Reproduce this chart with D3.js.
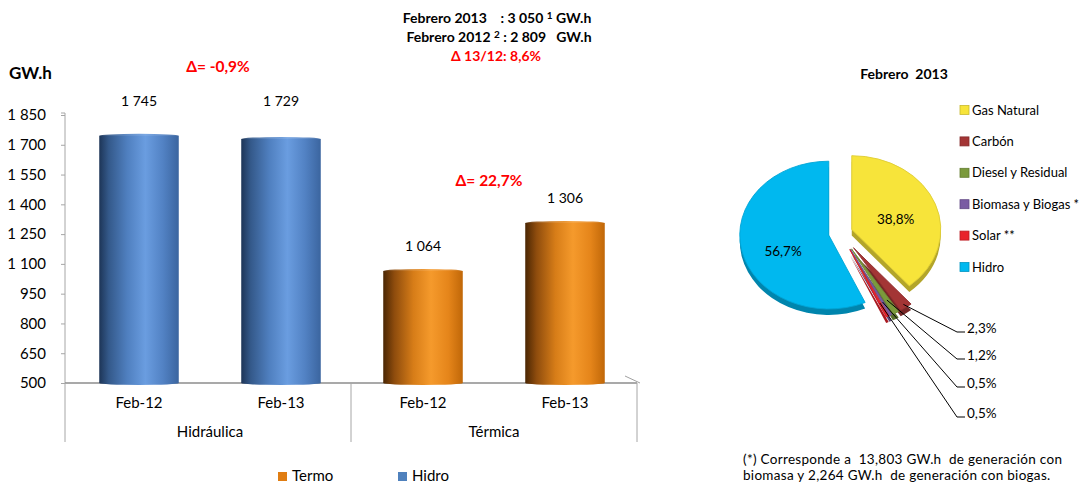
<!DOCTYPE html>
<html>
<head>
<meta charset="utf-8">
<script src="https://cdnjs.cloudflare.com/ajax/libs/d3/7.8.5/d3.min.js"></script>
<style>
  body { margin: 0; background: #fff; }
  text { font-family: Lato, "Open Sans", sans-serif; fill: #000; }
</style>
</head>
<body>
<div id="chart"></div>
<script>
// bar chart data
var categories = ["Feb-12", "Feb-13", "Feb-12", "Feb-13"];
var groups = ["Hidráulica", "Térmica"];
var barValues = [1745, 1729, 1064, 1306];
var barSeries = ["Hidro", "Hidro", "Termo", "Termo"];
var yTicks = [500, 650, 800, 950, 1100, 1250, 1400, 1550, 1700, 1850];
var deltaLabels = ["Δ= -0,9%", "Δ= 22,7%"];
var legendNames = ["Termo", "Hidro"];

// pie data
var pieNames = ["Gas Natural", "Carbón", "Diesel y Residual", "Biomasa y Biogas *", "Solar **", "Hidro"];
var pieValues = [38.8, 2.3, 1.2, 0.5, 0.5, 56.7];
var pieColors = ["#f7e43a", "#a33535", "#7b9a3c", "#7a5ba3", "#e8232b", "#00b8ef"];

var width = 1085, height = 484;
var svg = d3.select("#chart").append("svg")
  .attr("width", width).attr("height", height);

var defs = svg.append("defs");

function cylGrad(id, stops) {
  var g = defs.append("linearGradient").attr("id", id)
    .attr("x1", "0%").attr("x2", "100%").attr("y1", "0%").attr("y2", "0%");
  stops.forEach(function(s) {
    g.append("stop").attr("offset", s[0]).attr("stop-color", s[1]);
  });
}
cylGrad("gHidro", [["0%", "#1d3557"], ["12%", "#34598a"], ["35%", "#4f7fbf"], ["58%", "#6a9de0"], ["80%", "#5282c4"], ["100%", "#3b659f"]]);
cylGrad("gTermo", [["0%", "#4a2603"], ["14%", "#8e4c0d"], ["38%", "#d77d18"], ["60%", "#f59a2c"], ["82%", "#e5851a"], ["100%", "#c06708"]]);

var fmt = d3.formatLocale({decimal: ",", thousands: " ", grouping: [3], currency: ["", ""]}).format(",d");

// scales
var x = d3.scaleBand().domain(d3.range(categories.length))
  .range([68, 636]).paddingInner(0.44).paddingOuter(0.22);
var y = d3.scaleLinear().domain([500, 1850]).range([383, 115]);

// y axis
var yAxis = svg.append("g").attr("transform", "translate(65,0)")
  .call(d3.axisLeft(y).tickValues(yTicks).tickSize(4).tickPadding(15).tickFormat(fmt));
yAxis.select(".domain").attr("stroke", "#a6a6a6").attr("d", "M-4,113H0V383");
yAxis.selectAll(".tick line").attr("stroke", "#a6a6a6");
yAxis.selectAll(".tick text").style("font-size", "15px").attr("fill", "#000");

// bottom axis with separators
var axisColor = "#8c8c8c";
svg.append("line").attr("x1", 65).attr("x2", 637).attr("y1", 383).attr("y2", 383)
  .attr("stroke", axisColor).attr("stroke-width", 1.5);
svg.append("line").attr("x1", 625).attr("x2", 640).attr("y1", 376).attr("y2", 383)
  .attr("stroke", "#a0a0a0");
[65, 351, 637].forEach(function(sx) {
  svg.append("line").attr("x1", sx).attr("x2", sx).attr("y1", 383).attr("y2", 442)
    .attr("stroke", "#a6a6a6");
});

// bars
var bars = svg.append("g");
barValues.forEach(function(v, i) {
  var bx = x(i), bw = x.bandwidth(), fill = barSeries[i] === "Hidro" ? "url(#gHidro)" : "url(#gTermo)";
  bars.append("rect").attr("x", bx).attr("y", y(v)).attr("width", bw)
    .attr("height", y(500) - y(v)).attr("fill", fill);
  bars.append("ellipse").attr("cx", bx + bw / 2).attr("cy", y(v)).attr("rx", bw / 2).attr("ry", 2)
    .attr("fill", fill).attr("opacity", 0.9);
  bars.append("ellipse").attr("cx", bx + bw / 2).attr("cy", y(500)).attr("rx", bw / 2).attr("ry", 2)
    .attr("fill", fill);
  // labels that would sit above the plot top are put on one row, as in the original
  var ly = y(v) - 25;
  if (ly < 115) ly = 101;
  svg.append("text").attr("x", bx + bw / 2).attr("y", ly)
    .attr("dy", "0.35em").attr("text-anchor", "middle").style("font-size", "14px")
    .text(fmt(v));
});

// category labels
categories.forEach(function(c, i) {
  svg.append("text").attr("x", x(i) + x.bandwidth() / 2).attr("y", 403).attr("dy", "0.35em")
    .attr("text-anchor", "middle").style("font-size", "15px").text(c);
});
groups.forEach(function(g, gi) {
  var cx = (x(gi * 2) + x(gi * 2 + 1) + x.bandwidth()) / 2;
  svg.append("text").attr("x", cx).attr("y", 432).attr("dy", "0.35em")
    .attr("text-anchor", "middle").style("font-size", "15px").text(g);
});

// deltas
svg.append("text").attr("x", 218).attr("y", 67).attr("dy", "0.35em").attr("text-anchor", "middle")
  .style("font-size", "15.5px").style("font-weight", "bold").style("fill", "#ff0000").text(deltaLabels[0]);
svg.append("text").attr("x", 489).attr("y", 181).attr("dy", "0.35em").attr("text-anchor", "middle")
  .style("font-size", "15.5px").style("font-weight", "bold").style("fill", "#ff0000").text(deltaLabels[1]);

// unit title
svg.append("text").attr("x", 9).attr("y", 73).attr("dy", "0.35em")
  .style("font-size", "17px").style("font-weight", "bold").text("GW.h");

// header totals
var head = svg.append("g").style("font-size", "14px").style("font-weight", "bold");
var h1 = head.append("text").attr("x", 497).attr("y", 18).attr("dy", "0.35em").attr("text-anchor", "middle");
h1.append("tspan").text("Febrero 2013\u00a0\u00a0\u00a0 : 3 050 ");
h1.append("tspan").attr("dy", "-4").style("font-size", "10px").text("1");
h1.append("tspan").attr("dy", "4").text(" GW.h");
var h2 = head.append("text").attr("x", 499).attr("y", 37).attr("dy", "0.35em").attr("text-anchor", "middle");
h2.append("tspan").text("Febrero 2012 ");
h2.append("tspan").attr("dy", "-4").style("font-size", "10px").text("2");
h2.append("tspan").attr("dy", "4").text(" : 2 809\u00a0\u00a0 GW.h");
head.append("text").attr("x", 496).attr("y", 56).attr("dy", "0.35em").attr("text-anchor", "middle")
  .style("fill", "#ff0000").text("Δ 13/12: 8,6%");

// bar legend
var legColors = {"Termo": "#e07d12", "Hidro": "#4f81bd"};
var legX = [278, 398];
legendNames.forEach(function(n, i) {
  svg.append("rect").attr("x", legX[i]).attr("y", 472).attr("width", 9).attr("height", 9)
    .attr("fill", legColors[n]);
  svg.append("text").attr("x", legX[i] + 14).attr("y", 476).attr("dy", "0.35em")
    .style("font-size", "15px").text(n);
});

// ---- pie ----
var pcx = 840.5, pcy = 233, r = 89, tilt = 0.83, depth = 6;
var pie = d3.pie().sort(null).value(function(d) { return d; });
var arcs = pie(pieValues);
var arc = d3.arc().innerRadius(0).outerRadius(r);
var explode = [12, 22, 22, 22, 22, 12];

function offset(a, dist) {
  var m = (a.startAngle + a.endAngle) / 2;
  return [Math.sin(m) * dist, -Math.cos(m) * dist];
}

var pieG = svg.append("g").attr("transform", "translate(" + pcx + "," + pcy + ") scale(1," + tilt + ")");
// side thickness
arcs.forEach(function(a, i) {
  var o = offset(a, explode[i]);
  pieG.append("path").attr("d", arc(a))
    .attr("transform", "translate(" + o[0] + "," + (o[1] + depth / tilt) + ")")
    .attr("fill", d3.color(pieColors[i]).darker(0.9));
});
arcs.forEach(function(a, i) {
  var o = offset(a, explode[i]);
  pieG.append("path").attr("d", arc(a))
    .attr("transform", "translate(" + o[0] + "," + o[1] + ")")
    .attr("fill", pieColors[i])
    .attr("stroke", d3.color(pieColors[i]).darker(0.3)).attr("stroke-width", 1);
});

// inside labels for big slices
[0, 5].forEach(function(i) {
  var a = arcs[i], o = offset(a, explode[i]);
  var c = d3.arc().innerRadius(0).outerRadius(r * 1.05).centroid(a);
  svg.append("text").attr("x", pcx + o[0] + c[0]).attr("y", pcy + (o[1] + c[1]) * tilt + (i === 5 ? 8 : 3))
    .attr("dy", "0.35em").attr("text-anchor", "middle").style("font-size", "13.5px")
    .text(String(pieValues[i]).replace(".", ",") + "%");
});

// leader lines for small slices
var leaderY = [332, 359, 387, 417];
[1, 2, 3, 4].forEach(function(i, k) {
  var a = arcs[i], o = offset(a, explode[i]);
  var edge = offset(a, r * (k === 0 ? 0.95 : 0.8));
  var sx = pcx + o[0] + edge[0], sy = pcy + (o[1] + edge[1]) * tilt;
  svg.append("path").attr("d", "M" + sx + "," + sy + "L957," + leaderY[k] + "H965")
    .attr("fill", "none").attr("stroke", "#000").attr("stroke-width", 1);
  svg.append("text").attr("x", 967).attr("y", leaderY[k] - 4).attr("dy", "0.35em")
    .style("font-size", "13.5px").text(String(pieValues[i]).replace(".", ",") + "%");
});

// pie title
svg.append("text").attr("x", 904).attr("y", 74).attr("dy", "0.35em").attr("text-anchor", "middle")
  .style("font-size", "14px").style("font-weight", "bold").text("Febrero\u00a0 2013");

// pie legend
pieNames.forEach(function(n, i) {
  var ly = 110 + i * 31.4;
  svg.append("rect").attr("x", 960).attr("y", ly - 4.5).attr("width", 9).attr("height", 9)
    .attr("fill", pieColors[i]).attr("stroke", d3.color(pieColors[i]).darker(0.6)).attr("stroke-width", 0.8);
  svg.append("text").attr("x", 972).attr("y", ly).attr("dy", "0.35em")
    .style("font-size", "13px").text(n);
});

// footnote
svg.append("text").attr("x", 743).attr("y", 459).attr("dy", "0.35em").style("font-size", "13.5px")
  .style("letter-spacing", "0.3px")
  .text("(*) Corresponde a\u00a0 13,803 GW.h\u00a0 de generación con");
svg.append("text").attr("x", 743).attr("y", 475).attr("dy", "0.35em").style("font-size", "13.5px")
  .style("letter-spacing", "0.3px")
  .text("biomasa y 2,264 GW.h\u00a0 de generación con biogas.");
</script>
</body>
</html>
